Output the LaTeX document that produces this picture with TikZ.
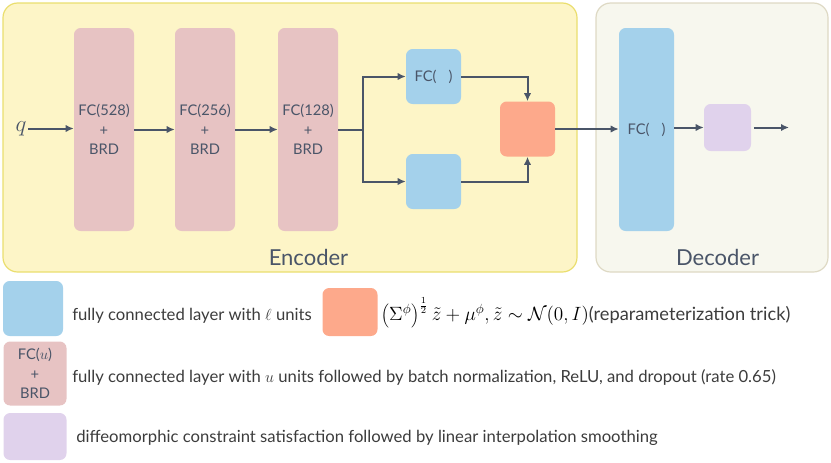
\documentclass[tikz,border=0pt]{standalone}
\usepackage{fontspec}
\setmainfont{Lato}
\usetikzlibrary{arrows.meta,positioning}
\definecolor{inkcol}{RGB}{74,85,104}
\definecolor{legcol}{RGB}{60,60,60}
\definecolor{encfill}{RGB}{253,245,199}
\definecolor{encline}{RGB}{234,222,110}
\definecolor{decfill}{RGB}{247,247,238}
\definecolor{decline}{RGB}{222,217,196}
\definecolor{brdpink}{RGB}{231,195,195}
\definecolor{fcblue}{RGB}{164,209,235}
\definecolor{repcol}{RGB}{253,169,139}
\definecolor{dcspurple}{RGB}{224,210,236}
\tikzset{
  layer/.style={rounded corners=5pt, inner sep=0pt, text=inkcol, align=center,
    font=\fontsize{11}{14.5}\selectfont},
  brd/.style={layer, fill=brdpink, minimum width=45pt, minimum height=152.25pt},
  fcbox/.style={layer, fill=fcblue, minimum width=41.25pt, minimum height=41.25pt},
  arr/.style={draw=inkcol, line width=1.5pt, -{Latex[length=6pt,width=5.5pt]}},
  wire/.style={draw=inkcol, line width=1.5pt},
  legtext/.style={anchor=west, inner sep=0pt, text=legcol, font=\fontsize{12.5}{14}\selectfont},
}
\begin{document}
\begin{tikzpicture}[x=0.75pt,y=-0.75pt]
\useasboundingbox (0,0) rectangle (831,462);
% backgrounds
\draw[fill=encfill, draw=encline, line width=0.9pt, rounded corners=11pt] (3,3) rectangle (577,272);
\draw[fill=decfill, draw=decline, line width=0.9pt, rounded corners=11pt] (596,3) rectangle (828,272);
\node[text=inkcol, font=\fontsize{16.5}{19}\selectfont] (enclabel) at (308.5,257) {Encoder};
\node[text=inkcol, font=\fontsize{16.5}{19}\selectfont] (declabel) at (717.5,257) {Decoder};
% encoder
\node[text=inkcol, font=\fontsize{19}{21}\selectfont, inner sep=1pt] (q) at (21,128.5) {$q$};
\node[brd] (fc1) at (104,129.5) {FC(528)\\+\\BRD};
\node[brd] (fc2) at (205,129.5) {FC(256)\\+\\BRD};
\node[brd] (fc3) at (308,129.5) {FC(128)\\+\\BRD};
\coordinate (split) at (363,129.5);
\node[fcbox] (mu) at (433.5,76.5) {FC(\hspace{9pt})};
\node[fcbox] (sig) at (433.5,181.5) {};
\node[fcbox, fill=repcol] (rep) at (527.5,129) {};
% decoder
\node[layer, fill=fcblue, minimum width=41.25pt, minimum height=152.25pt] (dfc) at (646.5,129.5) {FC(\hspace{9pt})};
\node[layer, fill=dcspurple, minimum width=35.25pt, minimum height=35.25pt] (dcs) at (727.5,127.5) {};
\coordinate (out) at (789,127.5);
% connectors
\draw[arr] (q.east) -- (q.east -| fc1.west);
\draw[arr] (fc1) -- (fc2);
\draw[arr] (fc2) -- (fc3);
\draw[wire] (fc3.east) -- (split);
\draw[arr] (split) |- (mu.west);
\draw[arr] (split) |- (sig.west);
\draw[arr] (mu.east) -| (rep.north);
\draw[arr] (sig.east) -| (rep.south);
\draw[arr] (rep.east) -- (rep.east -| dfc.west);
\draw[arr] (dfc.east |- dcs) -- (dcs.west);
\draw[arr] ([xshift=2pt]dcs.east) -- (out);
% legend
\node[fcbox, minimum width=45pt] (lgfc) at (33,308.5) {};
\node[legtext] (lgfctext) at (72,316) {fully connected layer with $\ell$ units};
\node[fcbox, fill=repcol, minimum height=36pt] (lgrep) at (350,312) {};
\node[legtext, text=black, font=\fontsize{13.7}{15}\selectfont] (lgreptext) at (381,313) {$\left(\Sigma^{\phi}\right)^{\frac{1}{2}}\tilde{z}+\mu^{\phi},\tilde{z}\sim\mathcal{N}(0,I)$\textcolor{legcol}{(reparameterization trick)}};
\node[layer, fill=brdpink, minimum width=47.25pt, minimum height=48pt] (lgbrd) at (35,373.5) {FC($u$)\\+\\BRD};
\node[legtext] (lgbrdtext) at (72,377.5) {fully connected layer with $u$ units followed by batch normalization, ReLU, and dropout (rate 0.65)};
\node[layer, fill=dcspurple, minimum width=47.25pt, minimum height=35.25pt] (lgdcs) at (35,436.5) {};
\node[legtext] (lgdcstext) at (76,438) {diffeomorphic constraint satisfaction followed by linear interpolation smoothing};
\end{tikzpicture}
\end{document}
